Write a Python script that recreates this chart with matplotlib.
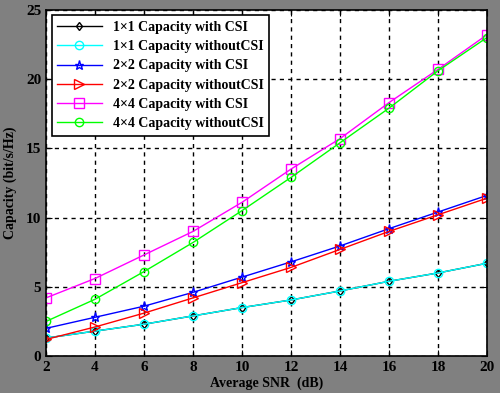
import matplotlib
matplotlib.use("Agg")
import matplotlib.pyplot as plt

# SNR points (dB)
snr = [2, 4, 6, 8, 10, 12, 14, 16, 18, 20]

# capacity curves (bit/s/Hz)
cap_1x1_csi = [1.3, 1.8, 2.3, 2.9, 3.5, 4.05, 4.7, 5.4, 6.0, 6.7]
cap_1x1_nocsi = [1.3, 1.8, 2.3, 2.9, 3.5, 4.05, 4.7, 5.4, 6.0, 6.7]
cap_2x2_csi = [2.0, 2.8, 3.6, 4.6, 5.7, 6.8, 7.95, 9.2, 10.4, 11.6]
cap_2x2_nocsi = [1.2, 2.1, 3.1, 4.2, 5.3, 6.4, 7.7, 9.0, 10.2, 11.4]
cap_4x4_csi = [4.2, 5.6, 7.3, 9.0, 11.1, 13.5, 15.7, 18.3, 20.7, 23.2]
cap_4x4_nocsi = [2.5, 4.1, 6.1, 8.2, 10.5, 12.9, 15.4, 17.9, 20.6, 23.0]

labels = [
    "1×1 Capacity with CSI",
    "1×1 Capacity withoutCSI",
    "2×2 Capacity with CSI",
    "2×2 Capacity withoutCSI",
    "4×4 Capacity with CSI",
    "4×4 Capacity withoutCSI",
]

plt.rcParams["font.family"] = ["Liberation Serif", "DejaVu Serif"]
plt.rcParams["font.weight"] = "bold"

fig = plt.figure(figsize=(5.0, 3.93), dpi=100, facecolor="#808080")
ax = fig.add_axes([0.092, 0.094, 0.882, 0.881])

ax.plot(snr, cap_1x1_csi, "k-d", ms=4.5, mfc="none", lw=1, label=labels[0])
ax.plot(snr, cap_1x1_nocsi, "-o", color="cyan", ms=6, mfc="none", lw=1, label=labels[1])
ax.plot(snr, cap_2x2_csi, "b-*", ms=6.5, mfc="none", lw=1, label=labels[2])
ax.plot(snr, cap_2x2_nocsi, "r->", ms=7, mfc="none", lw=1, label=labels[3])
ax.plot(snr, cap_4x4_csi, "-s", color="magenta", ms=7, mfc="none", lw=1, label=labels[4])
ax.plot(snr, cap_4x4_nocsi, "-o", color="lime", ms=6, mfc="none", lw=1, label=labels[5])

ax.set_xlim(2, 20)
ax.set_ylim(0, 25)
ax.set_xticks(snr)
ax.set_yticks([0, 5, 10, 15, 20, 25])
ax.tick_params(direction="in", labelsize=11, length=4, top=True, right=True)
for s in ax.spines.values():
    s.set_linewidth(1.2)
ax.grid(True, color="black", linestyle=(0, (3, 3)), linewidth=1)

ax.set_xlabel("Average SNR  (dB)", fontsize=10, fontweight="bold", labelpad=2)
ax.set_ylabel("Capacity (bit/s/Hz)", fontsize=10, fontweight="bold", labelpad=6)

leg = ax.legend(loc="upper left", fontsize=10, frameon=True, fancybox=False,
                edgecolor="black", framealpha=1, handlelength=3.2,
                borderaxespad=0.4, labelspacing=0.45)
leg.get_frame().set_linewidth(1.2)

fig.savefig("out.png", dpi=100, facecolor=fig.get_facecolor())
